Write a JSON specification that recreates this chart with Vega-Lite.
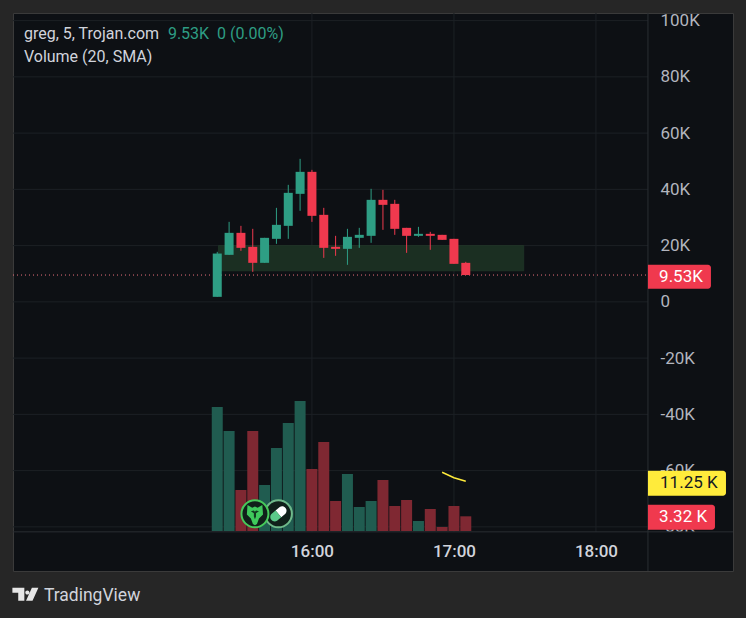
{
"$schema":"https://vega.github.io/schema/vega-lite/v6.json",
"width":720,"height":558,
"autosize":{"type":"none"},
"padding":{"left":13,"top":13,"right":13,"bottom":47},
"background":"#262626",
"view":{"fill":"#0d1014","stroke":"#3a3a3a","strokeWidth":1},
"config":{"text":{"font":"Roboto"},"axis":{"labelFont":"Roboto"},"scale":{"continuousPadding":0}},
"datasets":{
"hgrid":[{"v":100000,"a":"2024-01-01T13:53:42Z","b":"2024-01-01T18:21:58Z"},{"v":80000,"a":"2024-01-01T13:53:42Z","b":"2024-01-01T18:21:58Z"},{"v":60000,"a":"2024-01-01T13:53:42Z","b":"2024-01-01T18:21:58Z"},{"v":40000,"a":"2024-01-01T13:53:42Z","b":"2024-01-01T18:21:58Z"},{"v":20000,"a":"2024-01-01T13:53:42Z","b":"2024-01-01T18:21:58Z"},{"v":0,"a":"2024-01-01T13:53:42Z","b":"2024-01-01T18:21:58Z"},{"v":-20000,"a":"2024-01-01T13:53:42Z","b":"2024-01-01T18:21:58Z"},{"v":-40000,"a":"2024-01-01T13:53:42Z","b":"2024-01-01T18:21:58Z"},{"v":-60000,"a":"2024-01-01T13:53:42Z","b":"2024-01-01T18:21:58Z"},{"v":-80000,"a":"2024-01-01T13:53:42Z","b":"2024-01-01T18:21:58Z"}],
"vgrid":[{"t":"2024-01-01T16:00:00Z","a":102700,"b":-81778},{"t":"2024-01-01T17:00:00Z","a":102700,"b":-81778},{"t":"2024-01-01T18:00:00Z","a":102700,"b":-81778}],
"seps":[{"t":"2024-01-01T18:21:58Z","a":102700,"b":-95700}],
"sepsH":[{"v":-81778,"a":"2024-01-01T13:53:42Z","b":"2024-01-01T18:57:54Z"}],
"zone":[{"a":"2024-01-01T15:20:30Z","b":"2024-01-01T17:29:30Z","hi":20000,"lo":11022}],
"last":[{"v":9530,"a":"2024-01-01T13:53:42Z","b":"2024-01-01T18:21:58Z"}],
"candles":[
{"t":"2024-01-01T15:20:00Z","o":1778,"c":17173,"h":17778,"l":1778,"d":"up"},
{"t":"2024-01-01T15:25:00Z","o":16711,"c":24533,"h":28444,"l":16711,"d":"up"},
{"t":"2024-01-01T15:30:00Z","o":24533,"c":19200,"h":27022,"l":18133,"d":"down"},
{"t":"2024-01-01T15:35:00Z","o":19556,"c":13867,"h":25956,"l":10667,"d":"down"},
{"t":"2024-01-01T15:40:00Z","o":13867,"c":22756,"h":22756,"l":13867,"d":"up"},
{"t":"2024-01-01T15:45:00Z","o":22400,"c":27378,"h":33422,"l":20622,"d":"up"},
{"t":"2024-01-01T15:50:00Z","o":27022,"c":38756,"h":41600,"l":22400,"d":"up"},
{"t":"2024-01-01T15:55:00Z","o":38400,"c":46222,"h":50844,"l":32356,"d":"up"},
{"t":"2024-01-01T16:00:00Z","o":46222,"c":30578,"h":46933,"l":28444,"d":"down"},
{"t":"2024-01-01T16:05:00Z","o":30933,"c":19200,"h":33422,"l":15644,"d":"down"},
{"t":"2024-01-01T16:10:00Z","o":19556,"c":18844,"h":23467,"l":16356,"d":"down"},
{"t":"2024-01-01T16:15:00Z","o":18844,"c":23111,"h":25956,"l":13156,"d":"up"},
{"t":"2024-01-01T16:20:00Z","o":22756,"c":23822,"h":26311,"l":19200,"d":"up"},
{"t":"2024-01-01T16:25:00Z","o":23467,"c":36267,"h":40178,"l":20978,"d":"up"},
{"t":"2024-01-01T16:30:00Z","o":36267,"c":34489,"h":39822,"l":25600,"d":"down"},
{"t":"2024-01-01T16:35:00Z","o":34844,"c":25956,"h":36267,"l":23822,"d":"down"},
{"t":"2024-01-01T16:40:00Z","o":26311,"c":23467,"h":26311,"l":17422,"d":"down"},
{"t":"2024-01-01T16:45:00Z","o":23467,"c":24178,"h":26667,"l":23111,"d":"up"},
{"t":"2024-01-01T16:50:00Z","o":24178,"c":23467,"h":24889,"l":18489,"d":"down"},
{"t":"2024-01-01T16:55:00Z","o":23822,"c":22044,"h":23822,"l":22044,"d":"down"},
{"t":"2024-01-01T17:00:00Z","o":22400,"c":13511,"h":22400,"l":13511,"d":"down"},
{"t":"2024-01-01T17:05:00Z","o":13867,"c":9530,"h":14222,"l":9530,"d":"down"}
],
"volume":[
{"t":"2024-01-01T15:20:00Z","v":28024,"d":"up"},
{"t":"2024-01-01T15:25:00Z","v":22600,"d":"up"},
{"t":"2024-01-01T15:30:00Z","v":9266,"d":"down"},
{"t":"2024-01-01T15:35:00Z","v":22600,"d":"down"},
{"t":"2024-01-01T15:40:00Z","v":10396,"d":"up"},
{"t":"2024-01-01T15:45:00Z","v":18758,"d":"up"},
{"t":"2024-01-01T15:50:00Z","v":24408,"d":"up"},
{"t":"2024-01-01T15:55:00Z","v":29380,"d":"up"},
{"t":"2024-01-01T16:00:00Z","v":14012,"d":"down"},
{"t":"2024-01-01T16:05:00Z","v":20114,"d":"down"},
{"t":"2024-01-01T16:10:00Z","v":6780,"d":"down"},
{"t":"2024-01-01T16:15:00Z","v":12882,"d":"up"},
{"t":"2024-01-01T16:20:00Z","v":5424,"d":"up"},
{"t":"2024-01-01T16:25:00Z","v":6780,"d":"up"},
{"t":"2024-01-01T16:30:00Z","v":11526,"d":"down"},
{"t":"2024-01-01T16:35:00Z","v":5650,"d":"down"},
{"t":"2024-01-01T16:40:00Z","v":7006,"d":"down"},
{"t":"2024-01-01T16:45:00Z","v":2260,"d":"up"},
{"t":"2024-01-01T16:50:00Z","v":4972,"d":"down"},
{"t":"2024-01-01T16:55:00Z","v":904,"d":"down"},
{"t":"2024-01-01T17:00:00Z","v":5650,"d":"down"},
{"t":"2024-01-01T17:05:00Z","v":3320,"d":"down"}
],
"sma":[{"t":"2024-01-01T16:55:00Z","v":13270},{"t":"2024-01-01T17:00:00Z","v":12050},{"t":"2024-01-01T17:05:00Z","v":11250}]
},
"layer":[
{"layer":[
{"data":{"name":"hgrid"},"mark":{"type":"rule","color":"#1c2025","strokeWidth":1},
"encoding":{"x":{"field":"a","type":"temporal","scale":{"type":"utc","nice":false,"padding":0,"domain":[1704117222000,1704135474000]},
"axis":{"orient":"bottom","values":[1704124800000,1704128400000,1704132000000],"format":"%H:%M","title":null,"grid":false,"domain":false,"ticks":false,"labelPadding":-28,"labelFontSize":17,"labelFontWeight":500,"labelColor":"#d1d4dc","labelBound":false,"labelFlush":false,"labelOverlap":false}},
"x2":{"field":"b"},
"y":{"field":"v","type":"quantitative","scale":{"domain":[-95700,102700],"nice":false,"zero":false},
"axis":{"orient":"left","values":[100000,80000,60000,40000,20000,0,-20000,-40000,-60000,-80000],"labelExpr":"datum.value==0?'0':(datum.value/1000)+'K'","title":null,"grid":false,"domain":false,"ticks":false,"labelPadding":-647,"labelAlign":"left","labelFontSize":17,"labelColor":"#b2b5be","labelBound":false,"labelOverlap":false}}}},
{"data":{"name":"vgrid"},"mark":{"type":"rule","color":"#1c2025","strokeWidth":1},"encoding":{"x":{"field":"t","type":"temporal"},"y":{"field":"a","type":"quantitative"},"y2":{"field":"b"}}},
{"data":{"name":"seps"},"mark":{"type":"rule","color":"#2a2e33","strokeWidth":1},"encoding":{"x":{"field":"t","type":"temporal"},"y":{"field":"a","type":"quantitative"},"y2":{"field":"b"}}},
{"data":{"name":"sepsH"},"mark":{"type":"rule","color":"#2a2e33","strokeWidth":1},"encoding":{"x":{"field":"a","type":"temporal"},"x2":{"field":"b"},"y":{"field":"v","type":"quantitative"}}},
{"data":{"name":"zone"},"mark":{"type":"rect","fill":"#1b2f22","stroke":"#26402f","strokeWidth":0.5},"encoding":{"x":{"field":"a","type":"temporal"},"x2":{"field":"b"},"y":{"field":"hi","type":"quantitative"},"y2":{"field":"lo"}}},
{"data":{"name":"last"},"mark":{"type":"rule","color":"#e8707c","strokeWidth":1,"strokeDash":[1,3]},"encoding":{"x":{"field":"a","type":"temporal"},"x2":{"field":"b"},"y":{"field":"v","type":"quantitative"}}},
{"data":{"name":"candles"},"mark":{"type":"rule","strokeWidth":1},"encoding":{"x":{"field":"t","type":"temporal"},"y":{"field":"h","type":"quantitative"},"y2":{"field":"l"},"color":{"field":"d","type":"nominal","legend":null,"scale":{"domain":["up","down"],"range":["#2e9e84","#f0394e"]}}}},
{"data":{"name":"candles"},"mark":{"type":"bar","size":9},"encoding":{"x":{"field":"t","type":"temporal"},"y":{"field":"o","type":"quantitative"},"y2":{"field":"c"},"color":{"field":"d","type":"nominal","legend":null}}},
{"data":{"values":[{"t":"2024-01-01T18:21:58Z","b":"2024-01-01T18:48:35Z","hi":13156,"lo":4622}]},"mark":{"type":"rect","fill":"#f0394e","cornerRadiusTopRight":3,"cornerRadiusBottomRight":3},"encoding":{"x":{"field":"t","type":"temporal"},"x2":{"field":"b"},"y":{"field":"hi","type":"quantitative"},"y2":{"field":"lo"}}},
{"data":{"values":[{"t":"2024-01-01T18:26:40Z","v":8900,"s":"9.53K"}]},"mark":{"type":"text","align":"left","baseline":"middle","fontSize":17,"color":"#ffffff"},"encoding":{"x":{"field":"t","type":"temporal"},"y":{"field":"v","type":"quantitative"},"text":{"field":"s"}}},
{"data":{"values":[{"t":"2024-01-01T13:58:19Z","v":95290,"s":"greg, 5, Trojan.com"},{"t":"2024-01-01T13:58:19Z","v":87112,"s":"Volume (20, SMA)"}]},"mark":{"type":"text","align":"left","baseline":"middle","fontSize":16,"color":"#d1d4dc"},"encoding":{"x":{"field":"t","type":"temporal"},"y":{"field":"v","type":"quantitative"},"text":{"field":"s"}}},
{"data":{"values":[{"t":"2024-01-01T14:59:09Z","v":95290,"s":"9.53K"},{"t":"2024-01-01T15:19:52Z","v":95290,"s":"0 (0.00%)"}]},"mark":{"type":"text","align":"left","baseline":"middle","fontSize":16,"color":"#2e9e84"},"encoding":{"x":{"field":"t","type":"temporal"},"y":{"field":"v","type":"quantitative"},"text":{"field":"s"}}},
{"data":{"values":[{"t":"2024-01-01T14:06:46Z","v":-104535,"s":"TradingView"}]},"mark":{"type":"text","align":"left","baseline":"middle","fontSize":17.5,"color":"#d1d4dc","clip":false},"encoding":{"x":{"field":"t","type":"temporal"},"y":{"field":"v","type":"quantitative"},"text":{"field":"s"}}},
{"data":{"values":[{"t":"2024-01-01T13:58:56Z","v":-104000}]},"mark":{"type":"point","filled":true,"opacity":1,"size":676,"color":"#e6e6e6","shape":"M-1 -.5H-.08V.5H-.55V-.12H-1ZM.15 -.3a.16.16 0 1 0 .001 0ZM.5 -.5H1L.55 .5H.05Z"},"encoding":{"x":{"field":"t","type":"temporal"},"y":{"field":"v","type":"quantitative"}}}
]},
{"layer":[
{"data":{"name":"volume"},"mark":{"type":"bar","size":11},"encoding":{"x":{"field":"t","type":"temporal"},"y":{"field":"v","type":"quantitative","axis":null,"scale":{"domain":[-9040,117068],"nice":false,"zero":false}},"y2":{"datum":0},"color":{"field":"d","type":"nominal","legend":null,"scale":{"domain":["up","down"],"range":["#205c50","#7f2832"]}}}},
{"data":{"name":"sma"},"mark":{"type":"line","color":"#ffeb3b","strokeWidth":1.5},"encoding":{"x":{"field":"t","type":"temporal"},"y":{"field":"v","type":"quantitative"}}}
]},
{"layer":[
{"data":{"values":[{"t":"2024-01-01T18:21:58Z","b":"2024-01-01T18:54:56Z","hi":-60089,"lo":-68978}]},"mark":{"type":"rect","fill":"#ffeb3b","cornerRadiusTopRight":3,"cornerRadiusBottomRight":3},"encoding":{"x":{"field":"t","type":"temporal"},"x2":{"field":"b"},"y":{"field":"hi","type":"quantitative","axis":null,"scale":{"domain":[-95700,102700],"nice":false,"zero":false}},"y2":{"field":"lo"}}},
{"data":{"values":[{"t":"2024-01-01T18:21:58Z","b":"2024-01-01T18:50:17Z","hi":-72178,"lo":-81067}]},"mark":{"type":"rect","fill":"#f0394e","cornerRadiusTopRight":3,"cornerRadiusBottomRight":3},"encoding":{"x":{"field":"t","type":"temporal"},"x2":{"field":"b"},"y":{"field":"hi","type":"quantitative"},"y2":{"field":"lo"}}},
{"data":{"values":[{"t":"2024-01-01T18:27:05Z","v":-64500,"s":"11.25 K"}]},"mark":{"type":"text","align":"left","baseline":"middle","fontSize":17,"color":"#131722"},"encoding":{"x":{"field":"t","type":"temporal"},"y":{"field":"v","type":"quantitative"},"text":{"field":"s"}}},
{"data":{"values":[{"t":"2024-01-01T18:26:40Z","v":-76600,"s":"3.32 K"}]},"mark":{"type":"text","align":"left","baseline":"middle","fontSize":17,"color":"#ffffff"},"encoding":{"x":{"field":"t","type":"temporal"},"y":{"field":"v","type":"quantitative"},"text":{"field":"s"}}},
{"data":{"values":[{"t":"2024-01-01T15:45:50Z","v":-75378}]},"mark":{"type":"point","filled":true,"opacity":1,"size":729,"fill":"#10201a","stroke":"#6fb98a","strokeWidth":2,"shape":"circle"},"encoding":{"x":{"field":"t","type":"temporal"},"y":{"field":"v","type":"quantitative"}}},
{"data":{"values":[{"t":"2024-01-01T15:45:50Z","v":-75378}]},"mark":{"type":"point","filled":true,"opacity":1,"size":729,"color":"#ffffff","shape":"M.21 .25L.52 -.01A.33 .33 0 0 0 .10 -.51L-.21 -.25Z"},"encoding":{"x":{"field":"t","type":"temporal"},"y":{"field":"v","type":"quantitative"}}},
{"data":{"values":[{"t":"2024-01-01T15:45:50Z","v":-75378}]},"mark":{"type":"point","filled":true,"opacity":1,"size":729,"color":"#5cc98a","shape":"M.21 .25L-.10 .51A.33 .33 0 0 1 -.52 .01L-.21 -.25Z"},"encoding":{"x":{"field":"t","type":"temporal"},"y":{"field":"v","type":"quantitative"}}},
{"data":{"values":[{"t":"2024-01-01T15:35:55Z","v":-75378}]},"mark":{"type":"point","filled":true,"opacity":1,"size":729,"fill":"#10201a","stroke":"#46c95a","strokeWidth":2,"shape":"circle"},"encoding":{"x":{"field":"t","type":"temporal"},"y":{"field":"v","type":"quantitative"}}},
{"data":{"values":[{"t":"2024-01-01T15:35:55Z","v":-75378}]},"mark":{"type":"point","filled":true,"opacity":1,"size":729,"color":"#3fc95c","shape":"M-.55 -.65L-.2 -.45L0 -.55L.2 -.45L.55 -.65L.6 .05L.3 .35L.15 .75L0 .85L-.15 .75L-.3 .35L-.6 .05Z"},"encoding":{"x":{"field":"t","type":"temporal"},"y":{"field":"v","type":"quantitative"}}},
{"data":{"values":[{"t":"2024-01-01T15:35:55Z","v":-75378}]},"mark":{"type":"point","filled":true,"opacity":1,"size":729,"color":"#123a20","shape":"M-.3 -.2L-.08 -.05L-.08 .2L0 .4L.08 .2L.08 -.05L.3 -.2L.08 -.25L0 -.15L-.08 -.25Z"},"encoding":{"x":{"field":"t","type":"temporal"},"y":{"field":"v","type":"quantitative"}}}
]}
],
"resolve":{"scale":{"y":"independent","color":"independent"}}
}
